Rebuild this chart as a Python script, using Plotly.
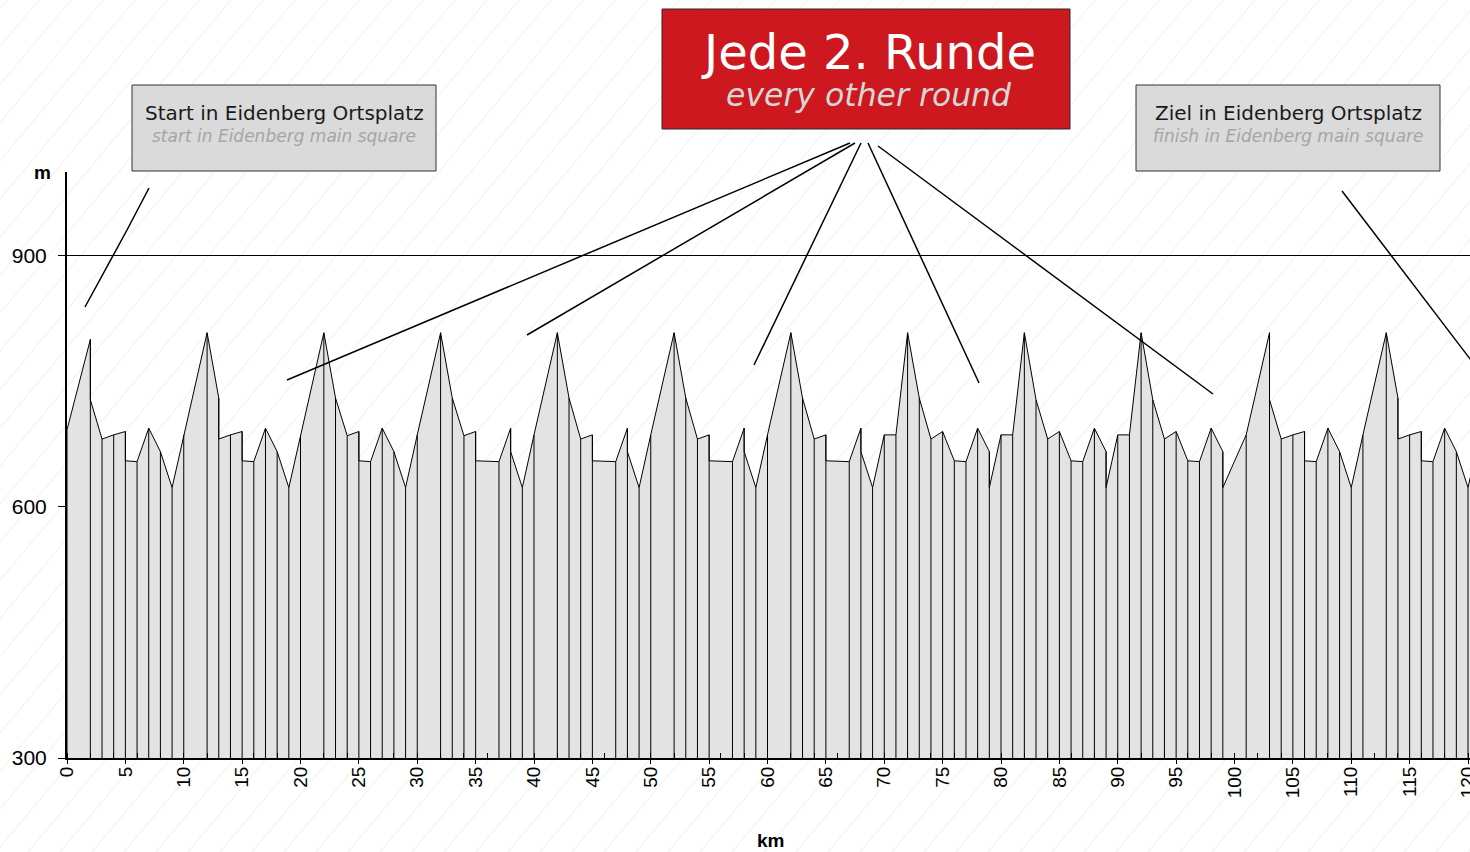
import base64
import math
import plotly.graph_objects as go

# ---------------- data ----------------
km_points = [
    0, 2, 2, 3, 4, 5, 5, 6, 7, 8, 9, 10,
    12, 13, 13, 14, 15, 15, 16, 17, 18, 19, 20,
    22, 23, 24, 25, 25, 26, 27, 28, 29, 30,
    32, 33, 34, 35, 35, 37, 38, 38, 39, 40,
    42, 43, 44, 45, 45, 47, 48, 48, 49, 50,
    52, 53, 54, 55, 55, 57, 58, 58, 59, 60,
    62, 63, 64, 65, 65, 67, 68, 68, 69, 70,
    71, 72, 73, 74, 75, 76, 77, 78, 79, 79, 80,
    81, 82, 83, 84, 85, 86, 87, 88, 89, 89, 90,
    91, 92, 93, 94, 95, 96, 97, 98, 99, 99, 101,
    103, 103, 104, 105, 106, 106, 107, 108, 109, 110, 111,
    113, 114, 114, 115, 116, 116, 117, 118, 119, 120, 121,
]
elevation_m = [
    692, 800, 728, 681, 686, 690, 655, 654, 694, 666, 623, 686,
    808, 730, 681, 686, 690, 655, 654, 694, 666, 623, 686,
    808, 730, 685, 690, 655, 654, 694, 666, 623, 686,
    808, 730, 685, 690, 655, 654, 694, 666, 623, 686,
    808, 730, 681, 686, 655, 654, 694, 666, 623, 686,
    808, 730, 681, 686, 655, 654, 694, 666, 623, 686,
    808, 730, 681, 686, 655, 654, 694, 666, 623, 686,
    686, 808, 730, 681, 690, 655, 654, 694, 666, 623, 686,
    686, 808, 728, 681, 690, 655, 654, 694, 666, 623, 686,
    686, 808, 728, 681, 690, 655, 654, 694, 666, 623, 686,
    808, 728, 681, 686, 690, 655, 654, 694, 666, 623, 686,
    808, 730, 681, 686, 690, 655, 654, 694, 666, 623, 686,
]
x_ticks = list(range(0, 121, 5))
y_ticks = [300, 600, 900]
y_range = [300, 1000]

start_label = "Start in Eidenberg Ortsplatz"
start_sub = "start in Eidenberg main square"
finish_label = "Ziel in Eidenberg Ortsplatz"
finish_sub = "finish in Eidenberg main square"
round_label = "Jede 2. Runde"
round_sub = "every other round"

# ---------------- layout geometry ----------------
W, H = 1470, 852
L = 67                       # km 0 at x 67
T = 172                      # 1000 m at y 172
B = H - 758                  # 300 m at y 758
R = 0
PW, PH = W - L - R, H - T - B
KM_PX = 1401.0 / 120         # pixels per km
x_max = PW / KM_PX


def px(x):                   # pixel x -> paper
    return (x - L) / PW


def py(y):                   # pixel y -> paper
    return (H - B - y) / PH


# faint diagonal background hatching (decoration)
ang = math.radians(50)
dx = H / math.tan(ang)
lines = "".join(
    f'<line x1="{x0:.1f}" y1="{H}" x2="{x0 + dx:.1f}" y2="0"/>'
    for x0 in range(-900, W + 40, 32)
)
svg = (f'<svg xmlns="http://www.w3.org/2000/svg" width="{W}" height="{H}">'
       f'<rect width="{W}" height="{H}" fill="white"/>'
       f'<g stroke="#eeeeee" stroke-width="1">{lines}</g></svg>')
bg_src = "data:image/svg+xml;base64," + base64.b64encode(svg.encode()).decode()

# vertical lines at every profile point
top_at = {}
for k, e in zip(km_points, elevation_m):
    top_at[k] = max(e, top_at.get(k, 0))
vx, vy = [], []
for k in sorted(top_at):
    vx += [k, k, None]
    vy += [y_range[0], top_at[k], None]

fig = go.Figure()
fig.add_trace(go.Scatter(
    x=km_points, y=elevation_m, mode="lines",
    line=dict(color="black", width=1),
    fill="tozeroy", fillcolor="#e3e3e3",
    hoverinfo="skip", showlegend=False,
))
fig.add_trace(go.Scatter(
    x=vx, y=vy, mode="lines",
    line=dict(color="black", width=1),
    hoverinfo="skip", showlegend=False,
))

shapes = []
annotations = []
FONT = "DejaVu Sans"

# grey boxes
for (x0, x1, main, sub) in [(132, 436, start_label, start_sub),
                            (1136, 1440, finish_label, finish_sub)]:
    shapes.append(dict(type="rect", xref="paper", yref="paper",
                       x0=px(x0), x1=px(x1), y0=py(171), y1=py(85),
                       fillcolor="#dadada", line=dict(color="#333333", width=1),
                       layer="above"))
    annotations.append(dict(xref="paper", yref="paper", x=px((x0 + x1) / 2), y=py(113),
                            text=main, showarrow=False, xanchor="center", yanchor="middle",
                            font=dict(family=FONT, size=20, color="#1a1a1a")))
    annotations.append(dict(xref="paper", yref="paper", x=px((x0 + x1) / 2), y=py(136),
                            text="<i>" + sub + "</i>", showarrow=False,
                            xanchor="center", yanchor="middle",
                            font=dict(family=FONT, size=17, color="#a5a5a5")))

# red box
shapes.append(dict(type="rect", xref="paper", yref="paper",
                   x0=px(662), x1=px(1070), y0=py(129), y1=py(9),
                   fillcolor="#cc181e", line=dict(color="#2a2a2a", width=1),
                   layer="above"))
annotations.append(dict(xref="paper", yref="paper", x=px(868), y=py(52),
                        text=round_label, showarrow=False, xanchor="center", yanchor="middle",
                        font=dict(family=FONT, size=48, color="white")))
annotations.append(dict(xref="paper", yref="paper", x=px(869), y=py(95),
                        text="<i>" + round_sub + "</i>", showarrow=False,
                        xanchor="center", yanchor="middle",
                        font=dict(family=FONT, size=31.5, color="#d6d6d6")))

# leader lines
leader_paths = [
    [(149, 188), (127, 230), (85, 307)],
    [(850, 143), (287, 380)],
    [(855, 143), (527, 335)],
    [(861, 143), (754, 365)],
    [(868, 143), (979, 383)],
    [(878, 146), (1213, 394)],
    [(1342, 191), (1480, 372)],
]
for pts in leader_paths:
    path = "M " + " L ".join(f"{px(a):.5f},{py(b):.5f}" for a, b in pts)
    shapes.append(dict(type="path", xref="paper", yref="paper", path=path,
                       line=dict(color="black", width=1.5), layer="above"))

# axis titles
annotations.append(dict(xref="paper", yref="paper", x=px(42), y=py(172),
                        text="<b>m</b>", showarrow=False, xanchor="center", yanchor="middle",
                        font=dict(family="Liberation Sans", size=19, color="black")))
annotations.append(dict(xref="paper", yref="paper", x=px(770), y=py(840),
                        text="<b>km</b>", showarrow=False, xanchor="center", yanchor="middle",
                        font=dict(family="Liberation Sans", size=19, color="black")))

fig.update_layout(
    width=W, height=H, autosize=False,
    margin=dict(l=L, r=R, t=T, b=B, pad=0),
    paper_bgcolor="white", plot_bgcolor="rgba(0,0,0,0)",
    showlegend=False,
    shapes=shapes, annotations=annotations,
    images=[dict(source=bg_src, xref="paper", yref="paper",
                 x=px(0), y=py(0), sizex=W / PW, sizey=H / PH,
                 xanchor="left", yanchor="top", sizing="stretch", layer="below")],
    xaxis=dict(range=[0, x_max], tickvals=x_ticks, ticktext=[str(t) for t in x_ticks],
               tickangle=-90, ticks="outside", ticklen=4, tickwidth=1, tickcolor="black",
               ticklabelstandoff=-5, ticklabeloverflow="allow",
               showline=True, linecolor="black", linewidth=2, showgrid=False, zeroline=False,
               automargin=False,
               minor=dict(dtick=2, tick0=0, ticks="inside", ticklen=5, tickcolor="black",
                          showgrid=False),
               tickfont=dict(family="Liberation Sans", size=19, color="black")),
    yaxis=dict(range=y_range, tickvals=y_ticks, ticks="outside", ticklen=7, tickwidth=1,
               tickcolor="black", showline=True, linecolor="black", linewidth=2,
               ticklabelstandoff=7,
               showgrid=True, gridcolor="black", gridwidth=1, zeroline=False,
               automargin=False,
               tickfont=dict(family="Liberation Sans", size=21, color="black")),
)

fig.write_html(
    "out.html",
    config={"displayModeBar": False},
    post_script="document.body.style.margin='0px';document.body.style.overflow='hidden';",
)
